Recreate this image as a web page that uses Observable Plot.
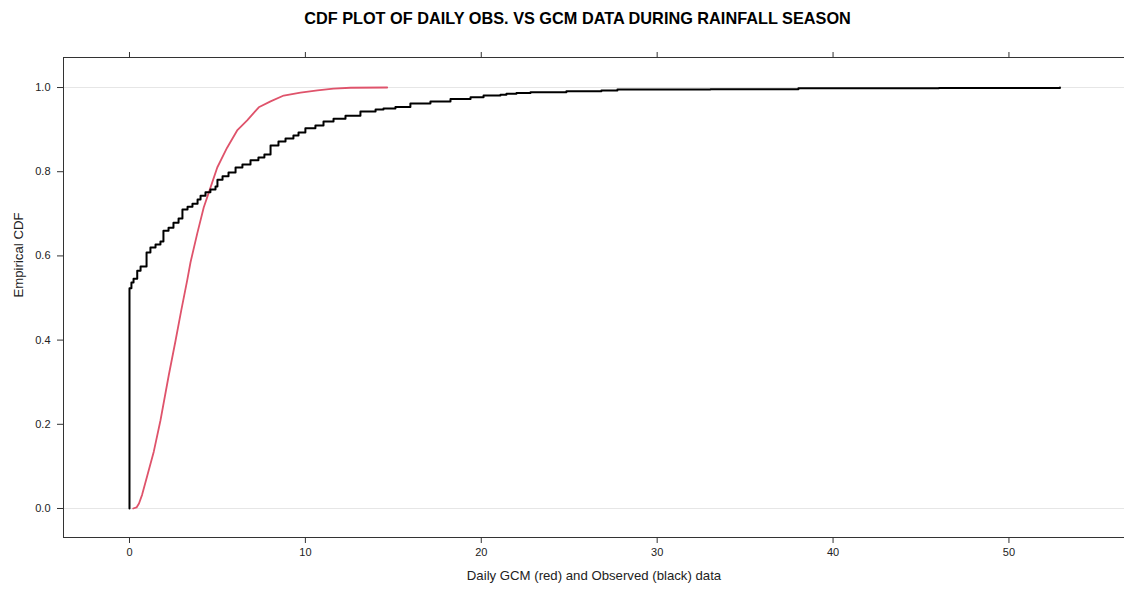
<!DOCTYPE html>
<html>
<head>
<meta charset="utf-8">
<script src="https://cdn.jsdelivr.net/npm/d3@7"></script>
<script src="https://cdn.jsdelivr.net/npm/@observablehq/plot@0.6"></script>
<style>
  html, body { margin: 0; padding: 0; background: #fff; overflow: hidden; }
  #title { box-sizing: border-box; width: 1124px; height: 40px; padding-left: 31px; text-align: center;
           font-family: "Liberation Sans", Arial, sans-serif; font-weight: bold; font-size: 16.3px; line-height: 36px; color: #000; }
  svg { display: block; }
</style>
</head>
<body>
<div id="title">CDF PLOT OF DAILY OBS. VS GCM DATA DURING RAINFALL SEASON</div>
<div id="chart"></div>
<script>
// Observed (black) empirical CDF step points
const obsX = [0, 0, 0.11, 0.23, 0.44, 0.63, 0.97, 1.19, 1.48, 1.76, 1.93, 2.22, 2.5, 2.79, 3.01, 3.3, 3.58, 3.87, 4.04, 4.32, 4.6, 4.89, 5.0, 5.29, 5.63, 6.03, 6.42, 6.88, 7.33, 7.67, 8.02, 8.47, 8.87, 9.32, 9.61, 10.0, 10.57, 11.03, 11.6, 12.28, 13.13, 13.99, 14.44, 15.12, 15.97, 17.11, 18.25, 19.39, 20.13, 21.09, 21.43, 22.0, 22.8, 24.84, 26.83, 27.74, 33.03, 38.03, 46.02, 52.9];
const obsP = [0, 0.523, 0.537, 0.546, 0.565, 0.575, 0.608, 0.62, 0.627, 0.634, 0.66, 0.667, 0.679, 0.689, 0.71, 0.717, 0.724, 0.734, 0.743, 0.751, 0.758, 0.765, 0.781, 0.789, 0.798, 0.81, 0.817, 0.827, 0.834, 0.841, 0.862, 0.872, 0.879, 0.886, 0.893, 0.903, 0.91, 0.919, 0.926, 0.933, 0.943, 0.948, 0.95, 0.954, 0.962, 0.967, 0.973, 0.977, 0.981, 0.983, 0.985, 0.987, 0.989, 0.991, 0.993, 0.995, 0.996, 0.998, 0.999, 1.0];
// GCM (red) empirical CDF points
const gcmX = [0.21, 0.40, 0.54, 0.72, 1.01, 1.38, 1.76, 2.23, 2.62, 2.94, 3.28, 3.47, 3.85, 4.22, 4.70, 4.99, 5.55, 6.12, 6.69, 7.35, 8.02, 8.77, 9.72, 10.69, 11.60, 12.57, 14.65];
const gcmP = [0, 0.0024, 0.012, 0.033, 0.078, 0.135, 0.209, 0.316, 0.399, 0.470, 0.542, 0.585, 0.653, 0.715, 0.774, 0.810, 0.857, 0.898, 0.922, 0.953, 0.967, 0.981, 0.988, 0.993, 0.9976, 0.9995, 1.0];
const xTicks = [0, 10, 20, 30, 40, 50];
const yTicks = [0, 0.2, 0.4, 0.6, 0.8, 1.0];
const refLines = [0, 1];
const xLabel = "Daily GCM (red) and Observed (black) data";
const yLabel = "Empirical CDF";

const obs = obsX.map((x, i) => ({x, p: obsP[i]}));
const gcm = gcmX.map((x, i) => ({x, p: gcmP[i]}));

const xDom = [-3.752, 56.57];
const yDom = [-0.0689, 1.0713];
const font = "Liberation Sans, Arial, sans-serif";

const chart = Plot.plot({
  width: 1124,
  height: 549,
  marginLeft: 63,
  marginRight: 0,
  marginTop: 17,
  marginBottom: 52,
  style: {fontFamily: font, fontSize: "11px", color: "#222", background: "#fff"},
  x: {domain: xDom, axis: null},
  y: {domain: yDom, axis: null},
  marks: [
    Plot.ruleY(refLines, {stroke: "#e6e6e6", strokeWidth: 1}),
    Plot.ruleY([yDom[0], yDom[1]], {stroke: "#333", strokeWidth: 1}),
    Plot.ruleX([xDom[0]], {stroke: "#333", strokeWidth: 1}),
    Plot.axisY({anchor: "left", ticks: yTicks, tickFormat: d3.format(".1f"), tickSize: 6, tickPadding: 7, label: null, stroke: "#333", fontSize: 11}),
    Plot.axisX({anchor: "bottom", ticks: xTicks, tickFormat: d3.format("d"), tickSize: 6, tickPadding: 5, label: null, stroke: "#333", fontSize: 11}),
    Plot.axisX({anchor: "top", ticks: xTicks, tickFormat: () => "", tickSize: 6, label: null, stroke: "#333"}),
    Plot.line(gcm, {x: "x", y: "p", stroke: "#DF536B", strokeWidth: 1.8}),
    Plot.line(obs, {x: "x", y: "p", curve: "step-after", stroke: "#000", strokeWidth: 2}),
    Plot.text([xLabel], {frameAnchor: "bottom", dy: 42, text: d => d, fontSize: 13.2, fill: "#222"}),
    Plot.text([yLabel], {frameAnchor: "left", dx: -45, rotate: -90, text: d => d, fontSize: 13.2, fill: "#222"})
  ]
});
document.getElementById("chart").appendChild(chart);
</script>
</body>
</html>
